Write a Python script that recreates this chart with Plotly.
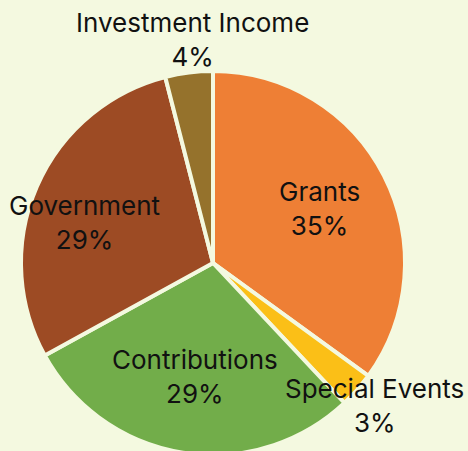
import math
import plotly.graph_objects as go

categories = ["Grants", "Special Events", "Contributions", "Government", "Investment Income"]
values = [35, 3, 29, 29, 4]
colors = ["#ee7f35", "#fbbf17", "#72ad4a", "#9d4b24", "#95722c"]
# label placement (style): radial factor and small angular offset in degrees
label_r = [0.62, 1.12, 0.60, 0.70, 1.17]
label_dtheta = [0, 0, 0, -6, 2]

# figure slightly taller than the window so the pie bottom is cropped as in the reference
W, H = 468, 455
cx_px, cy_px, R = 213, 192, 192  # pie centre (from bottom) and radius in px

fig = go.Figure(go.Pie(
    labels=categories,
    values=values,
    sort=False,
    direction="clockwise",
    rotation=0,
    marker=dict(colors=colors, line=dict(color="#f4f9e0", width=4)),
    textinfo="none",
    hoverinfo="label+percent",
    domain=dict(x=[(cx_px - R) / W, (cx_px + R) / W], y=[(cy_px - R) / H, (cy_px + R) / H]),
    showlegend=False,
))

total = sum(values)
cum = 0
for cat, v, f, dt in zip(categories, values, label_r, label_dtheta):
    mid = (cum + v / 2) / total * 360 + dt
    cum += v
    th = math.radians(mid)
    x = (cx_px + R * f * math.sin(th)) / W
    y = (cy_px + R * f * math.cos(th)) / H
    fig.add_annotation(
        x=x, y=y, xref="paper", yref="paper",
        text=f"{cat}<br>{round(v / total * 100)}%",
        showarrow=False, xanchor="center", yanchor="middle",
        font=dict(family="Inter", size=26, color="#111111"),
    )

fig.update_layout(
    width=W, height=H,
    margin=dict(l=0, r=0, t=0, b=0),
    paper_bgcolor="#f4f9e0",
    plot_bgcolor="#f4f9e0",
)
fig.write_html(
    "out.html",
    config={"displayModeBar": False},
    post_script="document.body.style.margin='0';document.body.style.overflow='hidden';",
)
